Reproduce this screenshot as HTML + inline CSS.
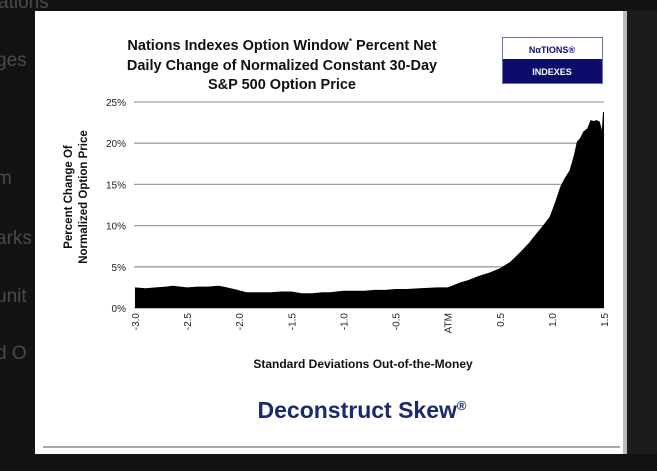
<!DOCTYPE html>
<html><head><meta charset="utf-8">
<style>
body{margin:0;width:657px;height:471px;background:#131313;overflow:hidden;position:relative;font-family:"Liberation Sans",Arial,sans-serif}
.ghost{position:absolute;color:#4a4a4a;font-size:19px;left:-4px}
#panel{position:absolute;left:35px;top:11px;width:588px;height:443px;background:#fff;border-right:4px solid #bbb}
#panel2{position:absolute;left:627px;top:11px;width:30px;height:443px;background:#1c1c1c}
svg{position:absolute;left:0;top:0}
</style></head><body>
<div class="ghost" style="top:-8px;left:-2px">ations</div>
<div class="ghost" style="top:50px">ges</div>
<div class="ghost" style="top:168px">m</div>
<div class="ghost" style="top:228px">arks</div>
<div class="ghost" style="top:286px">unit</div>
<div class="ghost" style="top:343px">d O</div>
<div id="panel"></div>
<div id="panel2"></div>
<svg id="chart" width="657" height="471">
<line x1="43" y1="447" x2="620" y2="447" stroke="#aaa" stroke-width="2"/>
<g font-weight="bold" font-size="14.5" text-anchor="middle" fill="#111">
<text x="282" y="50">Nations Indexes Option Window<tspan font-size="8" dy="-6">*</tspan><tspan dy="6"> Percent Net</tspan></text>
<text x="282" y="70">Daily  Change of Normalized Constant 30-Day</text>
<text x="282" y="89">S&amp;P  500 Option Price</text>
</g>
<g>
<rect x="502.5" y="37.5" width="100" height="46" fill="#fff" stroke="#7070b0"/>
<rect x="503" y="59" width="99" height="24" fill="#0c0c6a"/>
<text x="552" y="53" font-size="9" font-weight="bold" fill="#0c0c6a" text-anchor="middle">NαTIONS®</text>
<text x="552" y="75" font-size="9" font-weight="bold" fill="#fff" text-anchor="middle">INDEXES</text>
</g>
<g id="grid"></g><g id="area"></g><g id="ticks"></g>
<g transform="translate(75,197) rotate(-90)" font-weight="bold" font-size="11.5" text-anchor="middle" fill="#111">
<text x="0" y="-3">Percent Change Of</text><text x="0" y="12">Normalized Option Price</text></g>
<text x="363" y="368" font-size="12" font-weight="bold" text-anchor="middle" fill="#111">Standard Deviations Out-of-the-Money</text>
<text x="362" y="418" font-size="23" font-weight="bold" text-anchor="middle" fill="#1a2a6e">Deconstruct  Skew<tspan font-size="13" dy="-8">®</tspan></text>
</svg>
<script>
const xVals=[-3.0,-2.9,-2.8,-2.7,-2.64,-2.5,-2.4,-2.3,-2.2,-2.15,-2.05,-1.93,-1.8,-1.7,-1.6,-1.5,-1.4,-1.3,-1.2,-1.13,-1.0,-0.9,-0.8,-0.7,-0.6,-0.5,-0.4,-0.27,-0.1,0.0,0.12,0.2,0.3,0.4,0.5,0.6,0.69,0.78,0.855,0.92,0.98,1.03,1.08,1.12,1.17,1.21,1.24,1.27,1.30,1.34,1.37,1.40,1.43,1.46,1.48,1.49,1.5];
const yVals=[2.5,2.4,2.5,2.6,2.7,2.5,2.6,2.6,2.7,2.6,2.3,1.9,1.9,1.9,2.0,2.0,1.8,1.8,1.9,1.9,2.1,2.1,2.1,2.2,2.2,2.3,2.3,2.4,2.5,2.5,3.1,3.4,3.9,4.3,4.8,5.6,6.7,7.9,9.1,10.1,11.1,12.8,14.7,15.7,16.7,18.5,20.2,20.6,21.4,21.8,22.8,22.7,22.8,22.6,21.6,23.8,23.8];
const yTicks=[0,5,10,15,20,25];
const yTickLabels=["0%","5%","10%","15%","20%","25%"];
const xTicks=[-3.0,-2.5,-2.0,-1.5,-1.0,-0.5,0,0.5,1.0,1.5];
const xTickLabels=["-3.0","-2.5","-2.0","-1.5","-1.0","-0.5","ATM","0.5","1.0","1.5"];
const X0=135,X1=604,Y0=308,Y1=102;
const sx=v=>X0+(v+3)/4.5*(X1-X0);
const sy=v=>Y0-v/25*(Y0-Y1);
const NS="http://www.w3.org/2000/svg";
const mk=(t,a,p)=>{const e=document.createElementNS(NS,t);for(const k in a)e.setAttribute(k,a[k]);p.appendChild(e);return e;};
const grid=document.getElementById('grid'),ticks=document.getElementById('ticks'),area=document.getElementById('area');
yTicks.forEach((v,i)=>{
 const l=mk('line',{x1:X0-1,x2:X1,y1:sy(v),y2:sy(v),stroke:'#a0a0a0','stroke-width':1.3},grid);
 
 
 const t=mk('text',{x:126,y:sy(v)+4,'font-size':10,'text-anchor':'end',fill:'#222'},ticks);
 t.textContent=yTickLabels[i];
 
 
});
xTicks.forEach((v,i)=>{
 const t=mk('text',{x:0,y:0,'font-size':10,'text-anchor':'end',fill:'#222',transform:`translate(${sx(v)+4},313) rotate(-90)`},ticks);
 t.textContent=xTickLabels[i];
 
 
});
let d=`M${sx(xVals[0])},${Y0}`;
xVals.forEach((x,i)=>{d+=` L${sx(x).toFixed(1)},${sy(yVals[i]).toFixed(1)}`;});
d+=` L${sx(xVals[xVals.length-1])},${Y0} Z`;
const p=mk('path',{d:d,fill:'#000'},area);


</script>
</body></html>
